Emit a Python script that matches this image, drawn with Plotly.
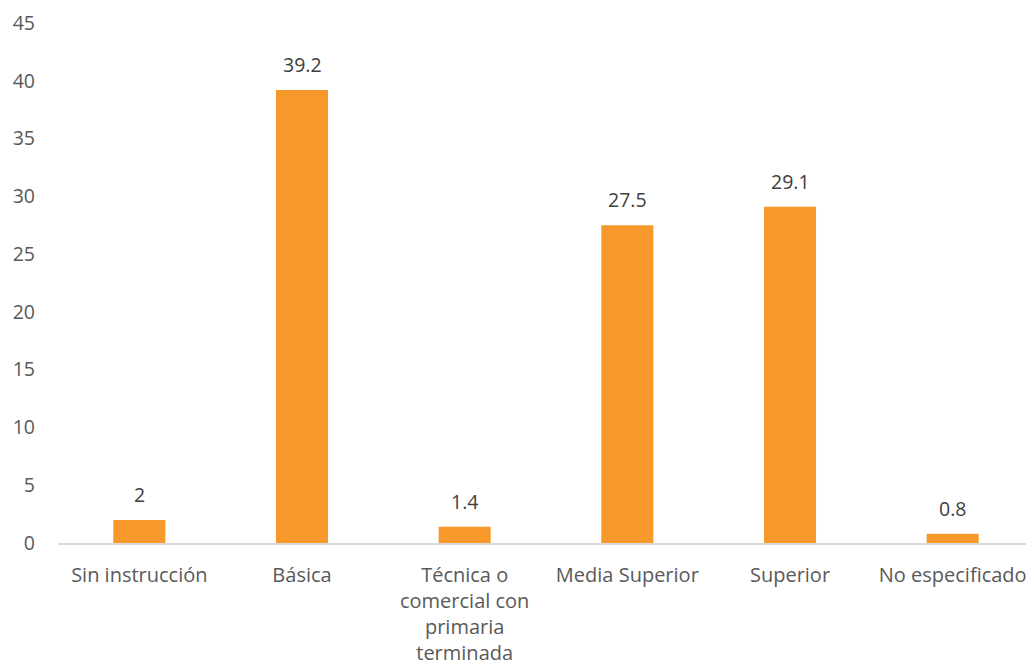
import plotly.graph_objects as go

categories = ["Sin instrucción", "Básica", "Técnica o<br>comercial con<br>primaria<br>terminada",
              "Media Superior", "Superior", "No especificado"]
values = [2, 39.2, 1.4, 27.5, 29.1, 0.8]
labels = ["2", "39.2", "1.4", "27.5", "29.1", "0.8"]
y_ticks = [0, 5, 10, 15, 20, 25, 30, 35, 40, 45]

font = dict(family="Open Sans", size=19.5, color="#595959")
xfont = dict(family="Open Sans", size=20, color="#595959")

fig = go.Figure(go.Bar(
    x=categories, y=values,
    marker=dict(color="#F7982A", line=dict(width=0)),
    width=0.32,
))

for c, v, t in zip(categories, values, labels):
    fig.add_annotation(x=c, y=v, text=t, showarrow=False, yanchor="bottom",
                       yshift=10, font=dict(family="Open Sans", size=19.5, color="#404040"))

fig.update_layout(
    width=1026, height=660, autosize=False,
    margin=dict(l=50, r=0, t=15, b=125),
    paper_bgcolor="white", plot_bgcolor="white",
    font=font, showlegend=False,
    xaxis=dict(showline=True, linecolor="#D9D9D9", linewidth=1.5, showgrid=False,
               ticks="", tickfont=xfont, ticklabelstandoff=13, automargin=False),
    yaxis=dict(range=[0, 45.001], tickvals=y_ticks, showgrid=False, zeroline=False,
               showline=False, ticks="", tickfont=font, ticklabelstandoff=22,
               ticklabeloverflow="allow", automargin=False),
)

fig.write_html("out.html")
